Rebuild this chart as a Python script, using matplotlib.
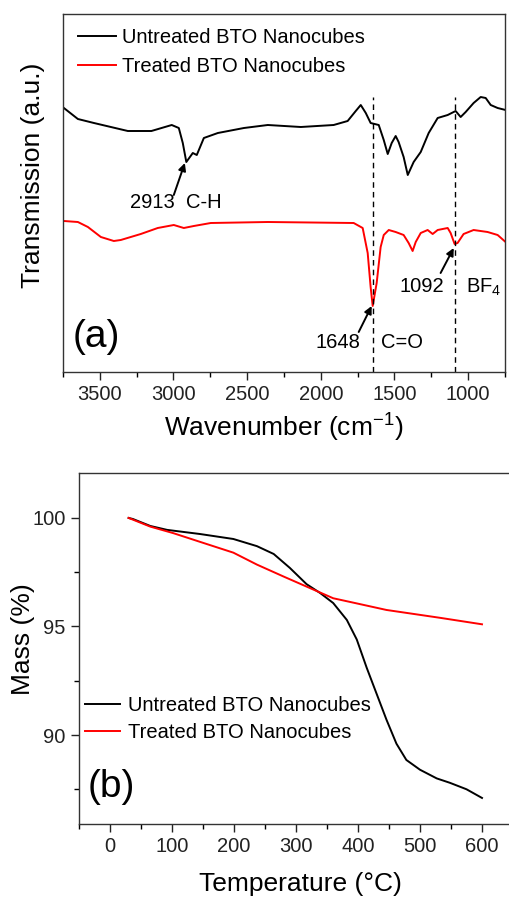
import matplotlib
matplotlib.use("Agg")
import matplotlib.pyplot as plt
from matplotlib.ticker import MultipleLocator

plt.rcParams['font.family'] = ['Liberation Sans', 'DejaVu Sans']
plt.rcParams['mathtext.default'] = 'regular'

# (a) FTIR spectra, transmission in arbitrary units
wn_untreated = [3744, 3649, 3540, 3310, 3150, 3012, 2964, 2937, 2913, 2869,
                2842, 2794, 2699, 2522, 2360, 2136, 1913, 1818, 1763, 1729,
                1695, 1662, 1607, 1573, 1546, 1519, 1492, 1472, 1438, 1410, 1370,
                1322, 1268, 1207, 1139, 1085, 1051, 1017, 963, 915, 881, 847, 800, 746]
tr_untreated = [264, 253, 249, 241, 241, 247, 244, 229, 210, 219,
                217, 234, 239, 244, 247, 245, 247, 251, 261, 267,
                259, 249, 247, 232, 218, 229, 236, 230, 215, 197, 210,
                220, 239, 254, 257, 261, 255, 260, 269, 275, 274, 267, 264, 262]

wn_treated = [3744, 3649, 3581, 3493, 3405, 3358, 3222, 3107, 2998, 2930, 2862,
              2747, 2360, 1777, 1716, 1682, 1662, 1648, 1621, 1594, 1573, 1539,
              1492, 1438, 1404, 1377, 1356, 1322, 1275, 1241, 1207, 1139, 1119,
              1092, 1072, 1031, 963, 868, 800, 746]
tr_treated = [151, 150, 145, 135, 131, 132, 138, 144, 147, 144, 146,
              149, 150, 149, 144, 119, 85, 66, 89, 125, 137, 142,
              140, 137, 129, 121, 130, 139, 142, 138, 142, 144, 139,
              128, 129, 138, 142, 140, 137, 130]

# (b) TGA curves
temp_untreated = [30, 37, 65, 92, 145, 199, 237, 264, 290, 317, 339, 360, 382, 398,
                  414, 430, 446, 462, 478, 500, 527, 548, 575, 600]
mass_untreated = [100.0, 99.95, 99.63, 99.45, 99.26, 99.03, 98.7, 98.34, 97.7, 96.95,
                  96.54, 96.08, 95.3, 94.4, 93.1, 91.9, 90.7, 89.6, 88.85, 88.4,
                  88.0, 87.8, 87.5, 87.1]
temp_treated = [30, 65, 102, 145, 199, 237, 280, 328, 360, 392, 446, 532, 600]
mass_treated = [100.0, 99.6, 99.3, 98.9, 98.4, 97.85, 97.3, 96.7, 96.3, 96.1,
                95.76, 95.4, 95.1]

labels = ['Untreated BTO Nanocubes', 'Treated BTO Nanocubes']

W, H = 510, 899
fig = plt.figure(figsize=(W / 100, H / 100), dpi=100)

# ---- panel (a) ----
ax1 = fig.add_axes([63 / W, 1 - 372 / H, 442 / W, 358 / H])
ax1.plot(wn_untreated, tr_untreated, color='black', lw=1.4, label=labels[0])
ax1.plot(wn_treated, tr_treated, color='red', lw=1.4, label=labels[1])
ax1.set_xlim(3750, 750)
ax1.set_ylim(0, 358)
ax1.xaxis.set_major_locator(MultipleLocator(500))
ax1.xaxis.set_minor_locator(MultipleLocator(250))
ax1.tick_params(left=False, labelleft=False)

for x in [1648, 1092]:
    ax1.vlines(x, 0, 275, colors='black', linestyles=(0, (4, 3)), lw=1)

arrow = dict(arrowstyle='-|>', color='black', lw=1.4, mutation_scale=11,
             shrinkA=0, shrinkB=0)
ax1.annotate('', xy=(2923, 209), xytext=(2998, 177), arrowprops=arrow)
ax1.annotate('', xy=(1655, 66), xytext=(1743, 40), arrowprops=arrow)
ax1.annotate('', xy=(1098, 124), xytext=(1187, 99), arrowprops=arrow)
ax1.text(2984, 170, '2913  C-H', ha='center', va='center', fontsize=14.5)
ax1.text(1885, 29, '1648', ha='center', va='center', fontsize=14.5)
ax1.text(1451, 29, 'C=O', ha='center', va='center', fontsize=14.5)
ax1.text(1316, 85, '1092', ha='center', va='center', fontsize=14.5)
ax1.text(895, 85, 'BF$_4$', ha='center', va='center', fontsize=14.5)
ax1.text(3527, 35, '(a)', ha='center', va='center', fontsize=28)

ax1.set_xlabel('Wavenumber (cm$^{-1}$)', fontsize=19, va='center')
ax1.xaxis.set_label_coords(0.5, -0.156)
ax1.set_ylabel('Transmission (a.u.)', fontsize=19, va='center')
ax1.yaxis.set_label_coords(-30 / 442, 0.55)
ax1.legend(loc='upper left', bbox_to_anchor=(0.034, 0.961), frameon=False,
           fontsize=14.5, borderpad=0, borderaxespad=0, handlelength=1.9,
           handletextpad=0.3, labelspacing=0.5)

# ---- panel (b) ----
ax2 = fig.add_axes([79 / W, 1 - 824 / H, 434 / W, 351 / H])
ax2.plot(temp_untreated, mass_untreated, color='black', lw=1.4, label=labels[0])
ax2.plot(temp_treated, mass_treated, color='red', lw=1.4, label=labels[1])
ax2.set_xlim(-50, 650)
ax2.set_ylim(85.9, 102.07)
ax2.xaxis.set_major_locator(MultipleLocator(100))
ax2.xaxis.set_minor_locator(MultipleLocator(50))
ax2.yaxis.set_major_locator(MultipleLocator(5))
ax2.yaxis.set_minor_locator(MultipleLocator(2.5))
ax2.text(2, 87.6, '(b)', ha='center', va='center', fontsize=28)

ax2.set_xlabel('Temperature (°C)', fontsize=19, va='center')
ax2.xaxis.set_label_coords(0.51, -0.171)
ax2.set_ylabel('Mass (%)', fontsize=19, va='center')
ax2.yaxis.set_label_coords(-56 / 434, 0.527)
ax2.legend(loc='upper left', bbox_to_anchor=(0.014, 0.365), frameon=False,
           fontsize=14.5, borderpad=0, borderaxespad=0, handlelength=1.75,
           handletextpad=0.4, labelspacing=0.4)

for ax in (ax1, ax2):
    ax.tick_params(which='major', direction='out', length=6, width=1,
                   labelsize=14.5, colors='#222222', labelcolor='#222222')
    ax.tick_params(which='minor', direction='out', length=3.5, width=1)
    for s in ax.spines.values():
        s.set_linewidth(1)
        s.set_color('#333333')

fig.savefig('out.png', dpi=100)
